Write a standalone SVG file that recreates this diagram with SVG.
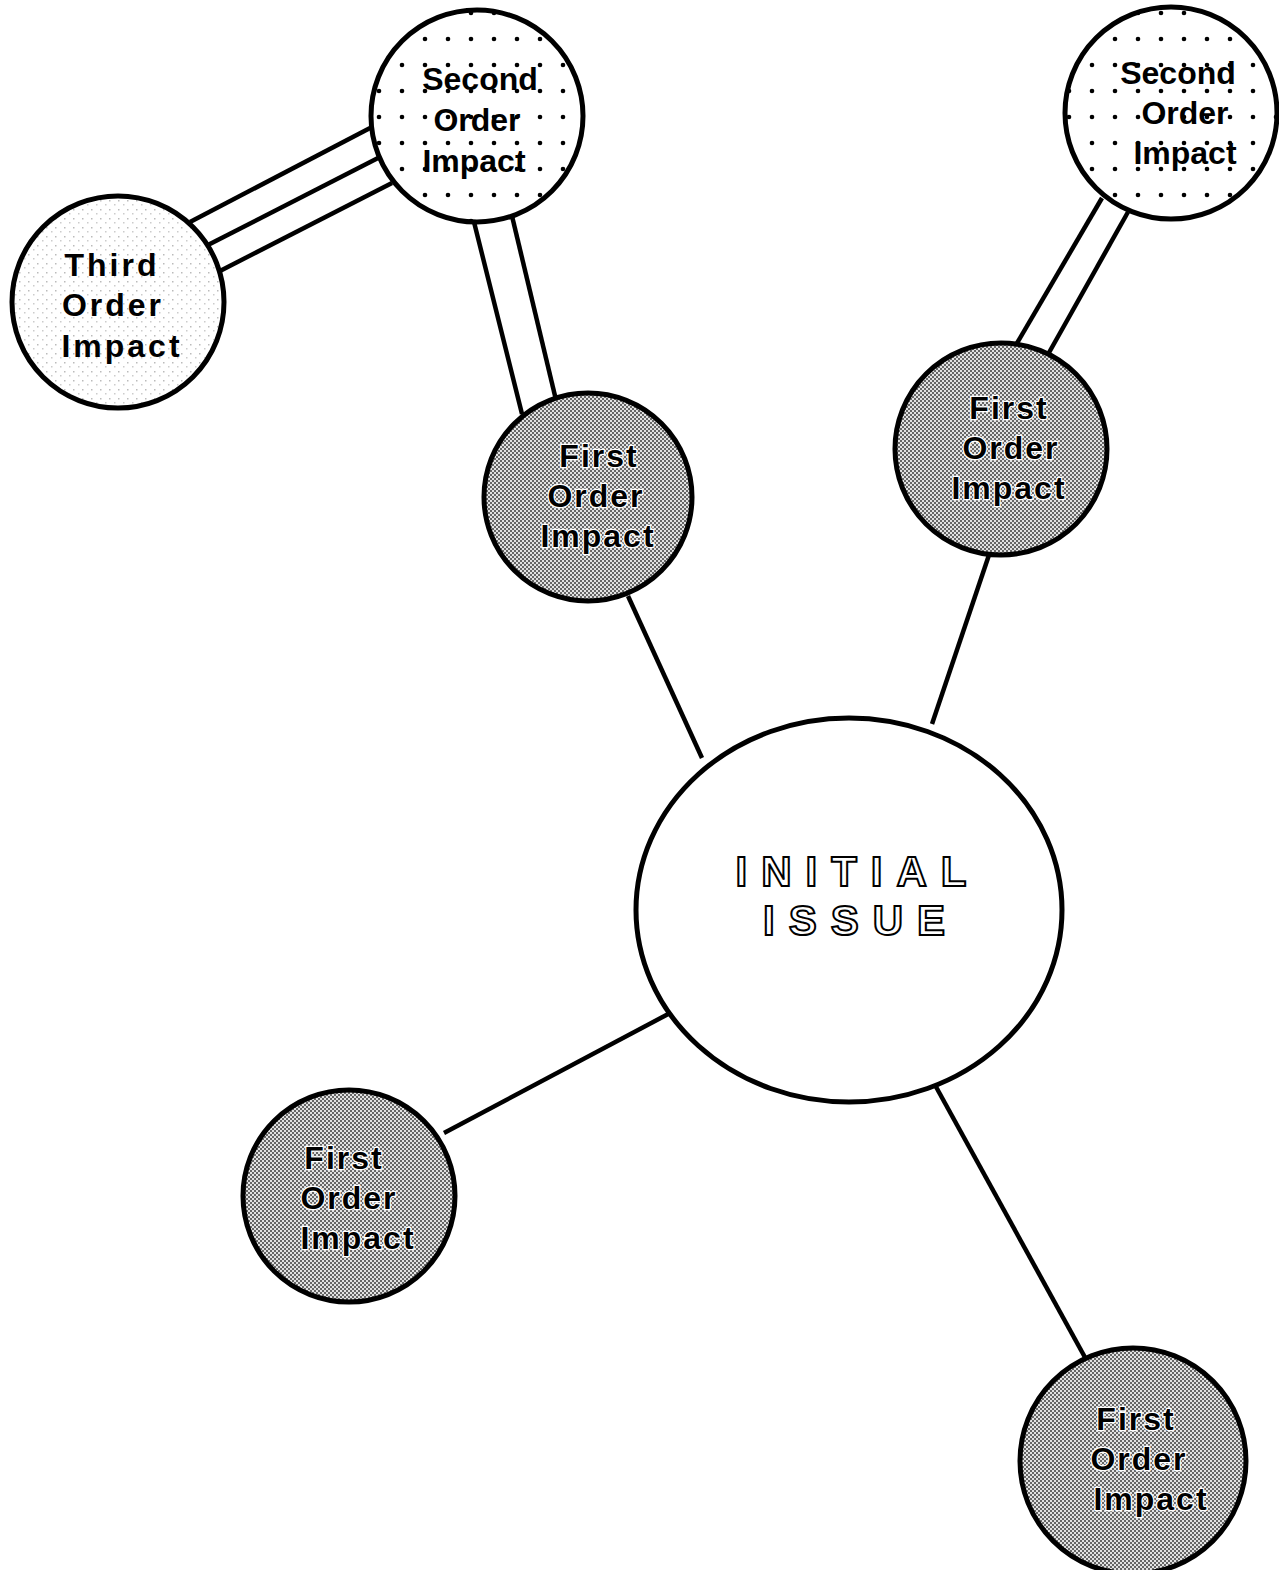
<svg xmlns="http://www.w3.org/2000/svg" width="1279" height="1570" viewBox="0 0 1279 1570">
<defs>
<pattern id="dots" patternUnits="userSpaceOnUse" width="23" height="26">
<rect width="23" height="26" fill="#fff"/>
<circle cx="11" cy="13" r="2.3" fill="#000"/>
</pattern>
<pattern id="halftone" patternUnits="userSpaceOnUse" width="4" height="4">
<rect width="4" height="4" fill="#e2e2e2"/>
<rect x="0" y="0" width="2" height="2" fill="#666"/>
<rect x="2" y="2" width="2" height="2" fill="#666"/>
</pattern>
<pattern id="stipple" patternUnits="userSpaceOnUse" width="9" height="9">
<rect width="9" height="9" fill="#fff"/>
<rect x="1" y="2" width="1.5" height="1.5" fill="#bbb"/>
<rect x="6" y="6" width="1.5" height="1.5" fill="#ccc"/>
</pattern>
</defs>
<style>
.c{stroke:#000;stroke-width:5}
.l{stroke:#000;stroke-width:4.5;fill:none;stroke-linecap:butt}
.t{font-family:"Liberation Sans",Arial,sans-serif;font-weight:bold;font-size:32px;fill:#000;text-anchor:middle}
.k{stroke:#fff;stroke-width:2.5;paint-order:stroke;letter-spacing:2px}
.big{font-family:"Liberation Sans",Arial,sans-serif;font-weight:bold;font-size:42px;fill:#fff;stroke:#000;stroke-width:2;text-anchor:middle;letter-spacing:14px}
</style>
<g id="connectors">
<line class="l" x1="702" y1="758" x2="628" y2="596"/>
<line class="l" x1="932" y1="724" x2="990" y2="552"/>
<line class="l" x1="672" y1="1012" x2="444" y2="1133"/>
<line class="l" x1="935" y1="1085" x2="1087" y2="1361"/>
<line class="l" x1="474" y1="222" x2="522" y2="414"/>
<line class="l" x1="512" y1="216" x2="556" y2="400"/>
<line class="l" x1="1102" y1="198" x2="1013" y2="350"/>
<line class="l" x1="1128" y1="212" x2="1046" y2="358"/>
<line class="l" x1="372" y1="127" x2="190" y2="222"/>
<line class="l" x1="380" y1="157" x2="204" y2="247"/>
<line class="l" x1="392" y1="183" x2="218" y2="272"/>
</g>
<g id="initial-issue">
<ellipse class="c" cx="849" cy="910" rx="213" ry="192" fill="#fff"/>
<text class="big" x="858" y="886">INITIAL</text>
<text class="big" x="861" y="935">ISSUE</text>
</g>
<g id="first-order-1">
<circle class="c" cx="588" cy="497" r="104" fill="url(#halftone)"/>
<text class="t k" x="599" y="467">First</text>
<text class="t k" x="596" y="507">Order</text>
<text class="t k" x="598" y="547">Impact</text>
</g>
<g id="first-order-2">
<circle class="c" cx="1001" cy="449" r="106" fill="url(#halftone)"/>
<text class="t k" x="1009" y="419">First</text>
<text class="t k" x="1011" y="459">Order</text>
<text class="t k" x="1009" y="499">Impact</text>
</g>
<g id="first-order-3">
<circle class="c" cx="349" cy="1196" r="106" fill="url(#halftone)"/>
<text class="t k" x="344" y="1169">First</text>
<text class="t k" x="349" y="1209">Order</text>
<text class="t k" x="358" y="1249">Impact</text>
</g>
<g id="first-order-4">
<circle class="c" cx="1133" cy="1461" r="113" fill="url(#halftone)"/>
<text class="t k" x="1136" y="1430">First</text>
<text class="t k" x="1139" y="1470">Order</text>
<text class="t k" x="1151" y="1510">Impact</text>
</g>
<g id="second-order-1">
<circle class="c" cx="477" cy="116" r="106" fill="url(#dots)"/>
<text class="t" x="480" y="90">Second</text>
<text class="t" x="477" y="131">Order</text>
<text class="t" x="474" y="172">Impact</text>
</g>
<g id="second-order-2">
<circle class="c" cx="1171" cy="113" r="106" fill="url(#dots)"/>
<text class="t" x="1178" y="84">Second</text>
<text class="t" x="1185" y="124">Order</text>
<text class="t" x="1185" y="164">Impact</text>
</g>
<g id="third-order">
<circle class="c" cx="118" cy="302" r="106" fill="url(#stipple)"/>
<text class="t" style="letter-spacing:3px" x="112" y="276">Third</text>
<text class="t" style="letter-spacing:3px" x="113" y="316">Order</text>
<text class="t" style="letter-spacing:3px" x="122" y="357">Impact</text>
</g>
</svg>
